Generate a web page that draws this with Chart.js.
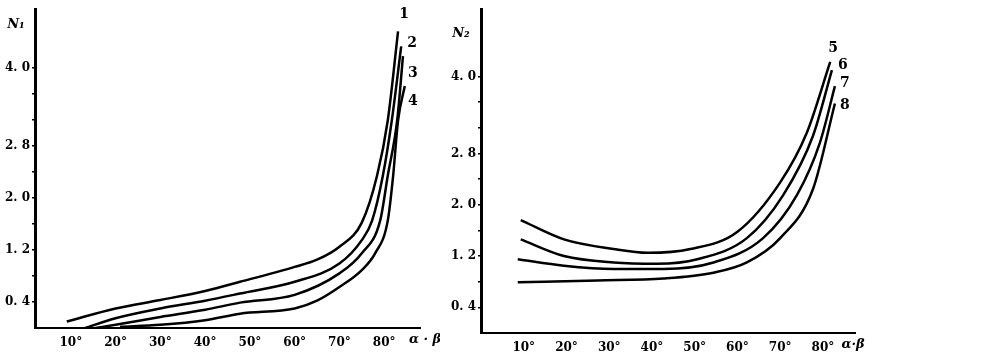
<!DOCTYPE html>
<html>
<head>
<meta charset="utf-8">
<script src="https://cdn.jsdelivr.net/npm/chart.js@4"></script>
<style>
body { margin: 0; background: #fff; width: 1006px; height: 359px; overflow: hidden; position: relative; }
.box { position: absolute; top: 0; height: 359px; width: 440px; }
</style>
</head>
<body>
<div class="box" style="left:0"><canvas id="left" width="440" height="359"></canvas></div>
<div class="box" style="left:440px"><canvas id="right" width="440" height="359"></canvas></div>
<script>
// tick values
var xTicks = [10, 20, 30, 40, 50, 60, 70, 80];
var yTicks = [0.4, 0.8, 1.2, 1.6, 2.0, 2.4, 2.8, 3.2, 3.6, 4.0];
var yLabelled = [0.4, 1.2, 2.0, 2.8, 4.0];

// left chart, N1 vs angle
var ang1 = [9.1, 20, 30, 40, 47.8, 60, 65, 70, 75, 78.4, 80.8, 83.1];
var n1   = [0.10, 0.30, 0.43, 0.57, 0.71, 0.94, 1.05, 1.25, 1.62, 2.34, 3.19, 4.56];
var ang2 = [13.2, 20, 30, 40, 47.8, 60, 70, 75, 77.3, 79.7, 81.7, 83.8];
var n2   = [0.0, 0.15, 0.30, 0.42, 0.53, 0.71, 0.99, 1.35, 1.65, 2.34, 3.19, 4.33];
var ang3 = [15.5, 20, 30, 40, 47.8, 60, 70, 75, 79.1, 80.8, 82.9, 84.2];
var n3   = [0.0, 0.05, 0.17, 0.28, 0.39, 0.51, 0.84, 1.15, 1.65, 2.34, 3.19, 4.18];
var ang4 = [21, 30, 40, 47.8, 60, 65, 70, 75, 78, 80.8, 82, 83.1, 84.6];
var n4   = [0.02, 0.05, 0.12, 0.22, 0.30, 0.42, 0.63, 0.89, 1.15, 1.65, 2.34, 3.19, 3.72];

// right chart, N2 vs angle
var ang5 = [9.3, 19.4, 31, 39, 49, 60, 70, 76.2, 81.7];
var n5   = [1.76, 1.46, 1.31, 1.25, 1.31, 1.58, 2.35, 3.12, 4.23];
var ang6 = [9.3, 19.4, 31, 41.2, 50.6, 62.2, 70.7, 77.7, 82.1];
var n6   = [1.46, 1.20, 1.10, 1.08, 1.15, 1.48, 2.15, 3.08, 4.10];
var ang7 = [8.6, 19.4, 31, 42.7, 54.4, 66, 73.9, 79.3, 82.8];
var n7   = [1.15, 1.05, 1.00, 1.00, 1.10, 1.48, 2.15, 2.97, 3.85];
var ang8 = [8.6, 27.2, 42.7, 54.4, 62.2, 70, 77.7, 82.8];
var n8   = [0.79, 0.82, 0.85, 0.94, 1.10, 1.48, 2.25, 3.58];

function pts(xs, ys) {
	return xs.map(function (x, i) { return { x: x, y: ys[i] }; });
}

function curve(label, xs, ys, dx, dy) {
	return {
		label: label,
		data: pts(xs, ys),
		borderColor: "#000",
		borderWidth: 2.5,
		pointRadius: 0,
		fill: false,
		cubicInterpolationMode: "monotone",
		tagDx: dx,
		tagDy: dy
	};
}

var tickFont = { family: "'DejaVu Serif', serif", weight: "bold", size: 12 };

// curve numbers and axis names
var textPlugin = {
	id: "texts",
	afterDraw: function (chart, args, opts) {
		var ctx = chart.ctx;
		var a = chart.chartArea;
		ctx.save();
		ctx.fillStyle = "#000";
		ctx.textAlign = "center";
		ctx.textBaseline = "middle";
		ctx.font = "bold 14px 'DejaVu Serif', serif";
		chart.data.datasets.forEach(function (ds, i) {
			var meta = chart.getDatasetMeta(i);
			var last = meta.data[meta.data.length - 1];
			ctx.fillText(ds.label, last.x + ds.tagDx, last.y + ds.tagDy);
		});
		ctx.font = "italic bold 13px 'DejaVu Serif', serif";
		ctx.fillText(opts.yName, a.left + opts.yDx, a.top + opts.yDy);
		ctx.fillText(opts.xName, a.right + opts.xDx, a.bottom + 12);
		ctx.restore();
	}
};

function makeChart(id, datasets, xMin, xMax, yMax, yWidth, xHeight, pad, texts) {
	var ctx = document.getElementById(id).getContext("2d");
	return new Chart(ctx, {
		type: "line",
		data: { datasets: datasets },
		plugins: [textPlugin],
		options: {
			responsive: false,
			animation: false,
			layout: { padding: pad },
			plugins: { legend: { display: false }, tooltip: { enabled: false }, texts: texts },
			scales: {
				x: {
					type: "linear",
					min: xMin,
					max: xMax,
					afterBuildTicks: function (s) { s.ticks = xTicks.map(function (v) { return { value: v }; }); },
					afterFit: function (s) { s.height = xHeight; },
					grid: { display: false },
					border: { display: true, color: "#000", width: 2 },
					ticks: { color: "#000", font: tickFont, padding: 0, maxRotation: 0, autoSkip: false,
						callback: function (v) { return v + "°"; } }
				},
				y: {
					min: 0,
					max: yMax,
					afterBuildTicks: function (s) { s.ticks = yTicks.map(function (v) { return { value: v }; }); },
					afterFit: function (s) { s.width = yWidth; },
					grid: { display: true, drawOnChartArea: false, drawTicks: true, tickLength: 3, color: "#000", lineWidth: 1.5 },
					border: { display: true, color: "#000", width: 3 },
					ticks: { color: "#000", font: tickFont, padding: 2, autoSkip: false,
						callback: function (v) {
							var on = yLabelled.some(function (t) { return Math.abs(t - v) < 1e-6; });
							return on ? v.toFixed(1).replace(".", ". ") : "";
						} }
				}
			}
		}
	});
}

var leftSets = [
	curve("1", ang1, n1, 6, -17),
	curve("2", ang2, n2, 11, -3),
	curve("3", ang3, n3, 10, 17),
	curve("4", ang4, n4, 8, 15)
];
var rightSets = [
	curve("5", ang5, n5, 3, -13),
	curve("6", ang6, n6, 11, -5),
	curve("7", ang7, n7, 10, -3),
	curve("8", ang8, n8, 10, 2)
];

// plot bottom at 328 (left) and 333 (right)
makeChart("left", leftSets, 2, 88, 4.9, 35, 359 - 328, { top: 8, right: 20, left: 0, bottom: 0 },
	{ yName: "N\u2081", yDx: -19, yDy: 15, xName: "\u03b1 \u00b7 \u03b2", xDx: 5 });
makeChart("right", rightSets, 0, 87.5, 5.05, 41, 359 - 333, { top: 5, right: 25, left: 0, bottom: 0 },
	{ yName: "N\u2082", yDx: -20, yDy: 24, xName: "\u03b1\u00b7\u03b2", xDx: -2 });
</script>
</body>
</html>
